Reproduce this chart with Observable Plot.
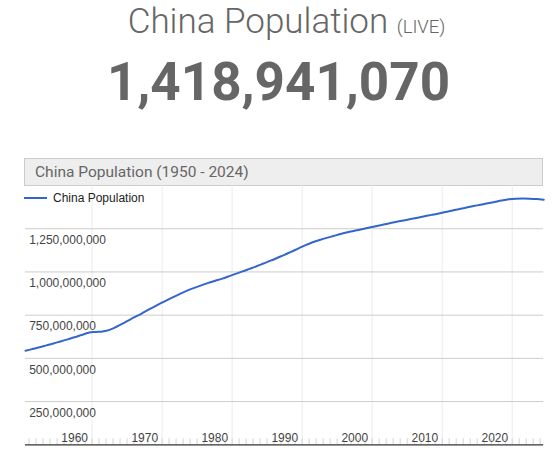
<!DOCTYPE html>
<html><head><meta charset="utf-8">
<script src="https://cdn.jsdelivr.net/npm/d3@7"></script>
<script src="https://cdn.jsdelivr.net/npm/@observablehq/plot@0.6"></script>
<style>
body{margin:0;width:557px;height:452px;overflow:hidden;background:#fff;position:relative;font-family:Roboto,sans-serif;}
#h1{position:absolute;left:8px;width:557px;top:4px;text-align:center;font-weight:300;font-size:35px;line-height:35px;color:#666;white-space:nowrap}
#h1 span{font-size:18.5px}
#num{position:absolute;left:0;width:557px;top:55.5px;text-align:center;font-weight:700;font-size:53px;line-height:53px;color:#666;white-space:nowrap}
#box{position:absolute;left:24px;top:157.5px;width:517px;height:26px;background:#eee;border:1px solid #ccc;color:#666;font-size:15.5px;line-height:26px;padding-left:0}
#box div{padding-left:10px}
#legend{position:absolute;left:24px;top:192px;font-family:"Liberation Sans",Arial,sans-serif;font-size:12px;line-height:12px;color:#222;white-space:nowrap}
#legend i{display:inline-block;width:23px;height:2px;background:#3366cc;vertical-align:middle;margin-right:6px;position:relative;top:-1px}
#chart{position:absolute;left:0;top:185px}
</style></head>
<body>
<div id="h1">China Population <span>(LIVE)</span></div>
<div id="num"></div>
<div id="box"><div id="boxtitle"></div></div>
<div id="chart"></div>
<div id="legend"><i></i>China Population</div>
<script>
const liveCount = 1418941070;
const chartTitle = "China Population (1950 - 2024)";
const years = [1950,1951,1952,1953,1954,1955,1956,1957,1958,1959,
1960,1961,1962,1963,1964,1965,1966,1967,1968,1969,
1970,1971,1972,1973,1974,1975,1976,1977,1978,1979,
1980,1981,1982,1983,1984,1985,1986,1987,1988,1989,
1990,1991,1992,1993,1994,1995,1996,1997,1998,1999,
2000,2001,2002,2003,2004,2005,2006,2007,2008,2009,
2010,2011,2012,2013,2014,2015,2016,2017,2018,2019,
2020,2021,2022,2023,2024];
// population, millions
const population = [544,554,564,575,586,598,610,622,635,648,
653,656,665,683,704,726,747,769,791,812,
833,853,872,890,906,921,935,948,960,974,
989,1003,1018,1033,1049,1065,1082,1099,1118,1136,
1155,1172,1185,1197,1208,1219,1229,1238,1247,1255,
1264,1273,1282,1290,1298,1306,1314,1322,1330,1338,
1347,1355,1364,1373,1381,1389,1397,1405,1413,1420,
1424,1425,1424,1422,1418];
const yTicks = [250e6, 500e6, 750e6, 1000e6, 1250e6];
const decadeTicks = [1960, 1970, 1980, 1990, 2000, 2010, 2020];
const minorTicks = d3.range(1951, 2025);

document.getElementById("num").textContent = d3.format(",")(liveCount);
document.getElementById("boxtitle").textContent = chartTitle;

const data = years.map((y, i) => ({date: new Date(Date.UTC(y, 6, 1)), pop: population[i] * 1e6}));
const jan1 = y => new Date(Date.UTC(y, 0, 1));

const chart = Plot.plot({
  width: 557, height: 267,
  marginTop: 0, marginBottom: 7.7, marginLeft: 25, marginRight: 13.8,
  style: {fontFamily: '"Liberation Sans", Arial, sans-serif', fontSize: "12px", overflow: "visible", background: "transparent"},
  x: {type: "utc", domain: [new Date(Date.UTC(1950, 6, 1)), new Date(Date.UTC(2024, 6, 1))], axis: null},
  y: {domain: [0, 1500e6], axis: null},
  marks: [
    Plot.ruleX(decadeTicks.map(jan1), {stroke: "#ebebeb"}),
    Plot.ruleY(yTicks, {stroke: "#ccc"}),
    Plot.axisX(minorTicks.map(jan1), {anchor: "bottom", tickSize: 6, dy: -6, tickFormat: () => "", stroke: "#d4d4d4"}),
    Plot.text(decadeTicks.map(jan1), {x: d => d, text: d => String(d.getUTCFullYear()), frameAnchor: "bottom", textAnchor: "end", lineAnchor: "bottom", dx: -4, dy: -3.3, fill: "#444"}),
    Plot.text(yTicks, {y: d => d, text: d => d3.format(",")(d), frameAnchor: "left", textAnchor: "start", lineAnchor: "top", dx: 3.7, dy: 6.7, fill: "#444"}),
    Plot.line(data, {x: "date", y: "pop", stroke: "#3366cc", strokeWidth: 2, curve: "monotone-x"}),
    Plot.ruleY([0], {stroke: "#333", strokeWidth: 1.3})
  ]
});
document.getElementById("chart").appendChild(chart);
</script>
</body></html>
